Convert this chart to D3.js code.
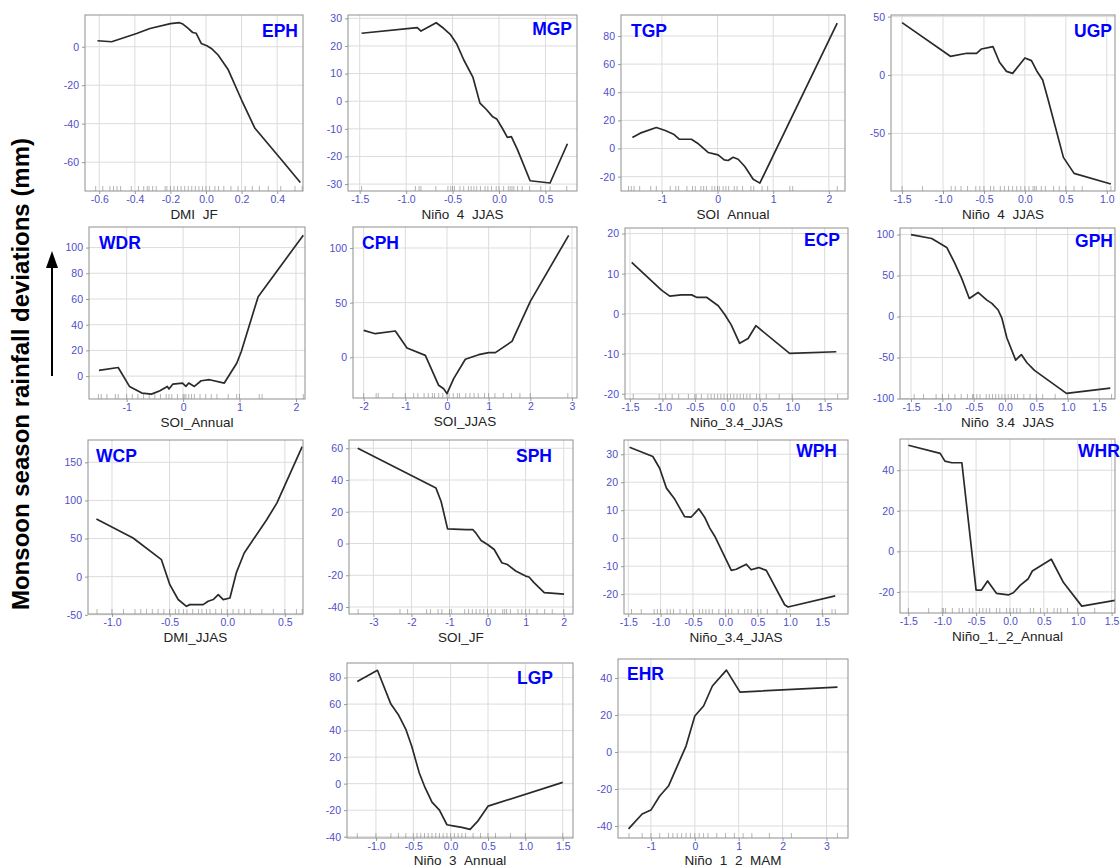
<!DOCTYPE html>
<html>
<head>
<meta charset="utf-8">
<script src="https://cdn.jsdelivr.net/npm/d3@7"></script>
<style>
  body { margin: 0; background: #fff; }
  svg { display: block; }
</style>
</head>
<body>
<svg id="fig" width="1120" height="866"></svg>
<script>
// ---- Partial-dependence curves: predictor value (x) vs rainfall deviation in mm (y) ----
const ephX = [-0.61,-0.53,-0.39,-0.315,-0.2,-0.15,-0.13,-0.1,-0.075,-0.055,-0.027,0.005,0.03,0.068,0.125,0.2,0.275,0.425,0.53];
const ephY = [3.1,2.6,6.9,9.5,12,12.5,11.8,9.5,7.4,7,1.7,0.5,-0.9,-4.3,-12,-27.7,-42.4,-58.9,-70.6];
const ephRug = [-0.62,-0.58,-0.54,-0.52,-0.5,-0.48,-0.42,-0.38,-0.35,-0.33,-0.32,-0.3,-0.28,-0.23,-0.22,-0.2,-0.18,-0.16,-0.14,-0.12,-0.1,-0.08,-0.06,-0.04,-0.02,0.0,0.02,0.05,0.07,0.1,0.14,0.18,0.22,0.26,0.3,0.35,0.42,0.5,0.54];

const mgpX = [-1.48,-0.88,-0.84,-0.676,-0.597,-0.525,-0.453,-0.38,-0.28,-0.205,-0.133,-0.072,-0.025,0.036,0.09,0.133,0.2,0.335,0.55,0.737];
const mgpY = [24.6,26.6,25.4,28.4,26.4,24.2,20.6,15,8.6,-0.7,-3.1,-5.5,-6.4,-9.8,-13.1,-12.8,-17.6,-28.8,-29.6,-15.4];
const mgpRug = [-1.48,-0.9,-0.86,-0.84,-0.68,-0.55,-0.52,-0.5,-0.48,-0.42,-0.38,-0.33,-0.3,-0.27,-0.24,-0.2,-0.15,-0.12,-0.08,-0.03,0.0,0.05,0.1,0.12,0.14,0.16,0.2,0.25,0.33,0.45,0.55,0.73];

const tgpX = [-1.53,-1.39,-1.1,-0.94,-0.79,-0.69,-0.47,-0.36,-0.17,0.01,0.12,0.19,0.28,0.37,0.49,0.64,0.76,2.15];
const tgpY = [7.8,10.9,14.9,12.8,10.2,6.6,6.6,3.8,-2.8,-4.5,-8.1,-8.5,-6.2,-7.6,-12.8,-21.8,-24.6,89.1];
const tgpRug = [-1.6,-1.55,-1.5,-1.4,-1.2,-1.1,-0.85,-0.75,-0.7,-0.55,-0.45,-0.4,-0.3,-0.25,-0.2,-0.1,-0.05,0.0,0.03,0.1,0.15,0.2,0.3,0.35,0.45,0.6,0.65,0.8,0.9,1.3,1.35,2.15];

const ugpX = [-1.5,-0.91,-0.71,-0.59,-0.53,-0.39,-0.31,-0.225,-0.15,0.0,0.08,0.143,0.217,0.287,0.47,0.6,1.05];
const ugpY = [44.9,16,18.6,18.6,22.3,24.3,10.9,3.1,1.4,14.6,12.3,3.7,-4.3,-22,-70.6,-84.3,-93.4];
const ugpRug = [-1.5,-1.25,-0.9,-0.85,-0.78,-0.7,-0.6,-0.55,-0.5,-0.42,-0.38,-0.3,-0.25,-0.2,-0.15,-0.1,-0.05,0.0,0.05,0.1,0.12,0.14,0.2,0.25,0.35,0.42,0.5,0.6,0.7,1.05];

const wdrX = [-1.49,-1.15,-0.95,-0.73,-0.56,-0.41,-0.28,-0.25,-0.18,-0.01,0.05,0.1,0.2,0.32,0.47,0.73,0.95,1.03,1.33,2.13];
const wdrY = [4.4,6.7,-8,-13.2,-14,-11.4,-8,-10,-6.2,-5.4,-8,-5.4,-8,-3.6,-2.8,-5.4,10,19,61.8,109.6];
const wdrRug = [-1.5,-1.45,-1.35,-1.2,-1.15,-1.0,-0.9,-0.8,-0.7,-0.6,-0.5,-0.4,-0.3,-0.25,-0.2,-0.1,0.0,0.02,0.05,0.1,0.15,0.2,0.3,0.4,0.5,0.6,0.8,0.95,1.0,1.35,1.4,2.13];

const cphX = [-2,-1.72,-1.24,-0.96,-0.52,-0.2,-0.08,0,0.16,0.44,0.76,1.0,1.16,1.56,2.0,2.92];
const cphY = [24.7,21.6,24.1,8.5,1.8,-25.6,-28.7,-33.2,-19.5,-1.8,2.4,4.3,4.3,14.6,51.2,111.6];
const cphRug = [-2.0,-1.7,-1.65,-1.3,-1.0,-0.8,-0.7,-0.55,-0.45,-0.35,-0.3,-0.2,-0.1,0.0,0.05,0.15,0.25,0.3,0.45,0.55,0.65,0.75,0.9,1.0,1.15,1.35,1.55,1.75,2.0,2.9];

const ecpX = [-1.474,-1.015,-0.887,-0.71,-0.55,-0.475,-0.32,-0.14,-0.04,0.06,0.19,0.32,0.44,0.96,1.68];
const ecpY = [12.8,5.9,4.4,4.7,4.7,4.1,4.1,2,-0.2,-2.8,-7.4,-6.2,-3,-9.9,-9.5];
const ecpRug = [-1.45,-1.05,-0.95,-0.85,-0.75,-0.6,-0.5,-0.48,-0.4,-0.3,-0.25,-0.2,-0.15,-0.1,-0.05,0.0,0.05,0.1,0.15,0.2,0.25,0.3,0.35,0.45,0.5,0.6,0.8,1.0,1.7];

const gphX = [-1.5,-1.17,-0.93,-0.81,-0.69,-0.57,-0.43,-0.29,-0.21,-0.11,-0.05,0.03,0.17,0.26,0.35,0.47,0.98,1.68];
const gphY = [100,95.2,84.3,66.4,46.3,22.1,29.4,20.1,16.1,8,-2,-26.1,-53.1,-46.3,-56.3,-65.6,-93.7,-87.3];
const gphRug = [-1.45,-1.3,-1.1,-1.0,-0.9,-0.8,-0.7,-0.6,-0.52,-0.5,-0.45,-0.4,-0.3,-0.25,-0.2,-0.15,-0.1,-0.05,0.0,0.05,0.1,0.15,0.2,0.3,0.4,0.5,0.6,0.8,1.0,1.7];

const wcpX = [-1.135,-0.817,-0.571,-0.498,-0.426,-0.354,-0.325,-0.209,-0.166,-0.122,-0.078,-0.035,0.023,0.08,0.147,0.342,0.43,0.65];
const wcpY = [75.5,50.7,22.3,-10.5,-30,-38.9,-36.7,-36.7,-32.3,-30,-23.6,-30.2,-28,5.7,31,74.7,96.5,170.7];
const wcpRug = [-1.13,-1.0,-0.9,-0.8,-0.75,-0.7,-0.65,-0.6,-0.55,-0.5,-0.45,-0.42,-0.38,-0.35,-0.3,-0.25,-0.22,-0.18,-0.15,-0.1,-0.05,0.0,0.05,0.1,0.15,0.2,0.3,0.4,0.5,0.6,0.65];

const sphX = [-3.41,-1.355,-1.22,-1.05,-0.57,-0.39,-0.31,-0.17,0,0.175,0.375,0.52,0.74,1.0,1.09,1.22,1.49,2.01];
const sphY = [60,34.9,26.5,9.2,8.8,8.8,6.7,1.9,-0.6,-3.8,-12.1,-13.2,-17.3,-20.5,-21.1,-24.6,-30.9,-31.9];
const sphRug = [-3.4,-2.3,-2.1,-1.6,-1.5,-1.3,-1.2,-1.0,-0.95,-0.6,-0.5,-0.4,-0.3,-0.2,-0.1,0.0,0.1,0.2,0.4,0.45,0.5,0.6,0.8,0.9,1.0,1.1,1.3,1.5,1.7,2.0];

const wphX = [-1.48,-1.12,-1.015,-0.91,-0.78,-0.63,-0.53,-0.41,-0.32,-0.24,-0.165,0.093,0.17,0.325,0.4,0.515,0.634,0.918,0.97,1.70];
const wphY = [32.5,29.2,25,17.9,13.9,7.7,7.5,10.5,7.5,3.6,0.8,-11.5,-11.1,-9.3,-11.3,-10.5,-11.5,-23.8,-24.6,-20.6];
const wphRug = [-1.45,-1.3,-1.1,-1.05,-1.0,-0.9,-0.85,-0.8,-0.7,-0.6,-0.5,-0.4,-0.35,-0.3,-0.25,-0.2,-0.1,0.0,0.05,0.1,0.2,0.3,0.35,0.4,0.5,0.55,0.65,0.8,0.95,1.5,1.65,1.7];

const whrX = [-1.5,-1.03,-0.96,-0.86,-0.71,-0.5,-0.42,-0.33,-0.2,-0.025,0.05,0.15,0.27,0.33,0.61,0.79,1.06,1.55];
const whrY = [52.3,48.3,44.5,43.7,43.7,-19.1,-19.1,-14.6,-20.7,-21.5,-20.4,-16.8,-13.5,-9.7,-3.9,-15.4,-27,-24.2];
const whrRug = [-1.5,-1.2,-1.0,-0.98,-0.95,-0.85,-0.75,-0.7,-0.6,-0.55,-0.45,-0.4,-0.35,-0.3,-0.2,-0.15,-0.05,0.0,0.05,0.1,0.15,0.3,0.35,0.45,0.55,0.65,0.7,0.75,0.85,1.0,1.25,1.55];

const lgpX = [-1.25,-0.98,-0.8,-0.7,-0.6,-0.52,-0.42,-0.35,-0.25,-0.15,-0.05,0.05,0.15,0.26,0.36,0.5,1.5];
const lgpY = [77,85.5,60,52,41,28,8,-2,-14,-20,-31,-32,-33,-34.5,-28.5,-17,1];
const lgpRug = [-1.25,-1.0,-0.8,-0.7,-0.6,-0.5,-0.45,-0.4,-0.35,-0.3,-0.25,-0.2,-0.15,-0.1,-0.05,0.0,0.05,0.1,0.15,0.2,0.3,0.4,0.5,0.6,0.8,1.0,1.5];

const ehrX = [-1.51,-1.2,-1.0,-0.8,-0.6,-0.4,-0.2,0.0,0.2,0.4,0.72,1.03,3.25];
const ehrY = [-41.6,-33.5,-31.4,-23.8,-18.4,-7.6,3.2,19.5,24.9,35.7,44.3,32.4,35.1];
const ehrRug = [-1.5,-1.2,-1.0,-0.8,-0.6,-0.5,-0.4,-0.3,-0.2,-0.1,0.0,0.1,0.2,0.3,0.5,0.7,0.9,1.1,1.3,1.7,2.2,3.25];

// ---- Tick values ----
const dmiJfTicks = [-0.6,-0.4,-0.2,0.0,0.2,0.4];
const nino4Ticks = [-1.5,-1.0,-0.5,0.0,0.5];
const nino4TicksWide = [-1.5,-1.0,-0.5,0.0,0.5,1.0];
const soiAnnualTicks = [-1,0,1,2];
const soiJjasTicks = [-2,-1,0,1,2,3];
const nino34Ticks = [-1.5,-1.0,-0.5,0.0,0.5,1.0,1.5];
const dmiJjasTicks = [-1.0,-0.5,0.0,0.5];
const soiJfTicks = [-3,-2,-1,0,1,2];
const nino12Ticks = [-1.5,-1.0,-0.5,0.0,0.5,1.0,1.5];
const nino3Ticks = [-1.0,-0.5,0.0,0.5,1.0,1.5];
const nino12MamTicks = [-1,0,1,2,3];

const ephYTicks = [-60,-40,-20,0];
const mgpYTicks = [-30,-20,-10,0,10,20,30];
const tgpYTicks = [-20,0,20,40,60,80];
const ugpYTicks = [-50,0,50];
const wdrYTicks = [0,20,40,60,80,100];
const cphYTicks = [0,50,100];
const ecpYTicks = [-20,-10,0,10,20];
const gphYTicks = [-100,-50,0,50,100];
const wcpYTicks = [-50,0,50,100,150];
const sphYTicks = [-40,-20,0,20,40,60];
const wphYTicks = [-20,-10,0,10,20,30];
const whrYTicks = [-20,0,20,40];
const lgpYTicks = [-40,-20,0,20,40,60,80];
const ehrYTicks = [-40,-20,0,20,40];

// ---- Panel layout: frame box [left, top, right, bottom], axis domains, label placement ----
const panels = [
  { name:"EPH", x:ephX, y:ephY, rug:ephRug, xt:dmiJfTicks, yt:ephYTicks, dec:1, title:"DMI_JF",
    box:[85,15,303,191], xd:[-0.68,0.545], yd:[-75,16.5], lab:[298,37,"end"], cut:220, tdy:28 },
  { name:"MGP", x:mgpX, y:mgpY, rug:mgpRug, xt:nino4Ticks, yt:mgpYTicks, dec:1, title:"Niño_4_JJAS",
    box:[348,15,577,191], xd:[-1.626,0.84], yd:[-32.5,31.2], lab:[572,35,"end"], cut:220, tdy:28 },
  { name:"TGP", x:tgpX, y:tgpY, rug:tgpRug, xt:soiAnnualTicks, yt:tgpYTicks, dec:0, title:"SOI_Annual",
    box:[621,15,845,191], xd:[-1.735,2.29], yd:[-30.2,94.9], lab:[631,37,"start"], cut:220, tdy:28 },
  { name:"UGP", x:ugpX, y:ugpY, rug:ugpRug, xt:nino4TicksWide, yt:ugpYTicks, dec:1, title:"Niño_4_JJAS",
    box:[891,15,1115,191], xd:[-1.635,1.1], yd:[-99.4,51.4], lab:[1112,37,"end"], cut:220, tdy:28 },

  { name:"WDR", x:wdrX, y:wdrY, rug:wdrRug, xt:soiAnnualTicks, yt:wdrYTicks, dec:0, title:"SOI_Annual",
    box:[89,227,305,399], xd:[-1.667,2.16], yd:[-17.8,116], lab:[99,249,"start"], cut:440, tdy:28 },
  { name:"CPH", x:cphX, y:cphY, rug:cphRug, xt:soiJjasTicks, yt:cphYTicks, dec:0, title:"SOI_JJAS",
    box:[353,227,577,398], xd:[-2.256,3.12], yd:[-37.2,119.2], lab:[362,249,"start"], cut:440, tdy:28 },
  { name:"ECP", x:ecpX, y:ecpY, rug:ecpRug, xt:nino34Ticks, yt:ecpYTicks, dec:1, title:"Niño_3.4_JJAS",
    box:[625,228,848,399], xd:[-1.577,1.86], yd:[-21.3,21.4], lab:[840,246,"end"], cut:440, tdy:28 },
  { name:"GPH", x:gphX, y:gphY, rug:gphRug, xt:nino34Ticks, yt:gphYTicks, dec:1, title:"Niño_3.4_JJAS",
    box:[900,228,1115,399], xd:[-1.676,1.755], yd:[-100.5,108], lab:[1113,247,"end"], cut:428.5, tdy:28 },

  { name:"WCP", x:wcpX, y:wcpY, rug:wcpRug, xt:dmiJjasTicks, yt:wcpYTicks, dec:1, title:"DMI_JJAS",
    box:[88,440,303,614], xd:[-1.208,0.657], yd:[-49,179.3], lab:[96,462,"start"], cut:660, tdy:28 },
  { name:"SPH", x:sphX, y:sphY, rug:sphRug, xt:soiJfTicks, yt:sphYTicks, dec:0, title:"SOI_JF",
    box:[349,440,573,614], xd:[-3.64,2.245], yd:[-44.4,65.2], lab:[552,462,"end"], cut:660, tdy:28 },
  { name:"WPH", x:wphX, y:wphY, rug:wphRug, xt:nino34Ticks, yt:wphYTicks, dec:1, title:"Niño_3.4_JJAS",
    box:[624,440,848,614], xd:[-1.566,1.897], yd:[-27.1,35.1], lab:[837,457,"end"], cut:660, tdy:28 },
  { name:"WHR", x:whrX, y:whrY, rug:whrRug, xt:nino12Ticks, yt:whrYTicks, dec:1, title:"Niño_1._2_Annual",
    box:[900,439,1115,613], xd:[-1.623,1.55], yd:[-30.4,55.4], lab:[1078,457,"start"], cut:660, tdy:28 },

  { name:"LGP", x:lgpX, y:lgpY, rug:lgpRug, xt:nino3Ticks, yt:lgpYTicks, dec:1, title:"Niño_3_Annual",
    box:[347,663,573,838], xd:[-1.3875,1.6375], yd:[-41,91], lab:[553,684,"end"], cut:900, tdy:27 },
  { name:"EHR", x:ehrX, y:ehrY, rug:ehrRug, xt:nino12MamTicks, yt:ehrYTicks, dec:0, title:"Niño_1_2_MAM",
    box:[618,659,848,838], xd:[-1.75,3.49], yd:[-46.5,50.3], lab:[627,680,"start"], cut:900, tdy:27 }
];

const TICK_COLOR = "#4f4fc8";
const fmt = dec => v => v.toFixed(dec);

const svg = d3.select("#fig");
const defs = svg.append("defs");

panels.forEach((p, i) => {
  const [x0, y0, x1, y1] = p.box;
  const xs = d3.scaleLinear().domain(p.xd).range([x0, x1]);
  const ys = d3.scaleLinear().domain(p.yd).range([y1, y0]);

  defs.append("clipPath").attr("id", "cell" + i)
    .append("rect").attr("x", x0 - 70).attr("y", y0 - 12)
    .attr("width", x1 - x0 + 90).attr("height", p.cut - (y0 - 12));
  defs.append("clipPath").attr("id", "plot" + i)
    .append("rect").attr("x", x0).attr("y", y0).attr("width", x1 - x0).attr("height", y1 - y0);

  const g = svg.append("g").attr("clip-path", `url(#cell${i})`);

  g.append("rect").attr("x", x0).attr("y", y0).attr("width", x1 - x0).attr("height", y1 - y0)
    .attr("fill", "#fff");

  // grid lines at major ticks
  const grid = g.append("g").attr("stroke", "#dcdcdc").attr("stroke-width", 1);
  grid.selectAll(".gx").data(p.xt).join("line").attr("class", "gx")
    .attr("x1", d => xs(d)).attr("x2", d => xs(d)).attr("y1", y0).attr("y2", y1);
  grid.selectAll(".gy").data(p.yt).join("line").attr("class", "gy")
    .attr("y1", d => ys(d)).attr("y2", d => ys(d)).attr("x1", x0).attr("x2", x1);

  // axes
  const ax = g.append("g").attr("transform", `translate(0,${y1})`)
    .call(d3.axisBottom(xs).tickValues(p.xt).tickFormat(fmt(p.dec)).tickSize(3).tickPadding(2));
  const ay = g.append("g").attr("transform", `translate(${x0},0)`)
    .call(d3.axisLeft(ys).tickValues(p.yt).tickFormat(fmt(0)).tickSize(3).tickPadding(3));
  [ax, ay].forEach(a => {
    a.select(".domain").remove();
    a.selectAll(".tick line").attr("stroke", "#9a9a9a");
    a.selectAll(".tick text").attr("fill", TICK_COLOR)
      .style("font-family", "'Liberation Sans', Arial, sans-serif").style("font-size", "10.5px");
  });

  // rug of observations
  const plot = g.append("g").attr("clip-path", `url(#plot${i})`);
  plot.append("g").selectAll("line").data(p.rug).join("line")
    .attr("x1", d => xs(d)).attr("x2", d => xs(d)).attr("y1", y1).attr("y2", y1 - 5)
    .attr("stroke", "#555").attr("stroke-opacity", 0.55).attr("stroke-width", 0.8);

  // response curve
  const pts = p.x.map((v, k) => [v, p.y[k]]);
  plot.append("path").datum(pts)
    .attr("d", d3.line().x(d => xs(d[0])).y(d => ys(d[1])))
    .attr("fill", "none").attr("stroke", "#2a2a2a").attr("stroke-width", 1.7)
    .attr("stroke-linejoin", "round");

  // frame
  g.append("rect").attr("x", x0).attr("y", y0).attr("width", x1 - x0).attr("height", y1 - y0)
    .attr("fill", "none").attr("stroke", "#8f8f8f").attr("stroke-width", 1);

  // region label
  g.append("text").attr("x", p.lab[0]).attr("y", p.lab[1]).attr("text-anchor", p.lab[2])
    .attr("fill", "#0000ff").style("font-family", "'Liberation Sans', Arial, sans-serif")
    .style("font-weight", "bold").style("font-size", "17.5px").text(p.name);

  // x-axis title
  g.append("text").attr("x", (x0 + x1) / 2).attr("y", y1 + p.tdy).attr("text-anchor", "middle")
    .attr("fill", "#222").style("font-family", "'Liberation Sans', Arial, sans-serif")
    .style("font-size", "13.5px").text(p.title);
});

// shared y-axis title with upward arrow
svg.append("text").attr("transform", "translate(29,374) rotate(-90)").attr("text-anchor", "middle")
  .attr("fill", "#000").style("font-family", "'Liberation Sans', Arial, sans-serif")
  .style("font-weight", "bold").style("font-size", "24px")
  .text("Monsoon season rainfall deviations  (mm)");

svg.append("line").attr("x1", 52).attr("x2", 52).attr("y1", 376).attr("y2", 266)
  .attr("stroke", "#000").attr("stroke-width", 2);
svg.append("path").attr("d", "M52,251 L46,268 L58,268 Z").attr("fill", "#000");
</script>
</body>
</html>
